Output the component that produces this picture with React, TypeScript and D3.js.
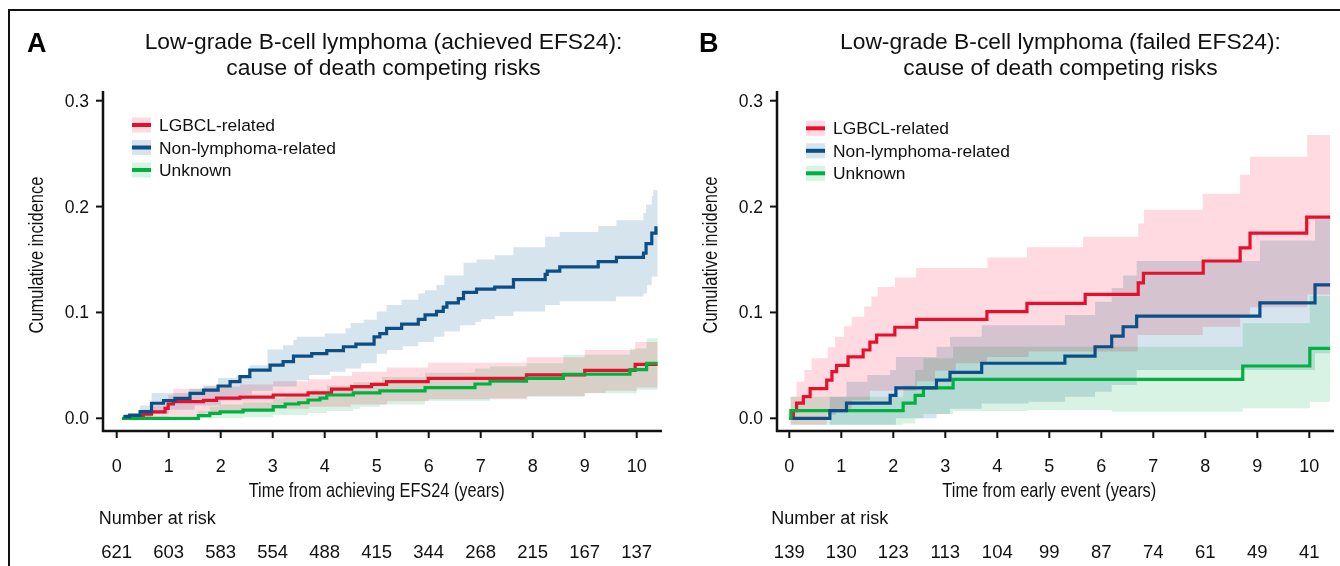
import React from "react";
import * as d3 from "d3";

// ---------- DATA ----------
const X_TICKS = [0, 1, 2, 3, 4, 5, 6, 7, 8, 9, 10];
const Y_TICKS = [0, 0.1, 0.2, 0.3];
const T_END = 10.4;

const SERIES = ["LGBCL-related", "Non-lymphoma-related", "Unknown"];

const A_TITLE = ["Low-grade B-cell lymphoma (achieved EFS24):", "cause of death competing risks"];
const B_TITLE = ["Low-grade B-cell lymphoma (failed EFS24):", "cause of death competing risks"];
const A_XLABEL = "Time from achieving EFS24 (years)";
const B_XLABEL = "Time from early event (years)";
const A_AT_RISK = [621, 603, 583, 554, 488, 415, 344, 268, 215, 167, 137];
const B_AT_RISK = [139, 130, 123, 113, 104, 99, 87, 74, 61, 49, 41];

// Panel A — step points [time, value]
const A_LGBCL = [[0.16, 0], [0.32, 0.002], [0.51, 0.004], [0.67, 0.006], [0.93, 0.0094], [0.99, 0.0135], [1.09, 0.0157], [1.67, 0.017], [1.92, 0.019], [2.37, 0.02], [3.01, 0.022], [3.68, 0.024], [4.13, 0.0275], [4.52, 0.03], [4.9, 0.032], [5.19, 0.0346], [5.99, 0.0378], [7.88, 0.041], [9.0, 0.0452], [9.97, 0.051]];
const A_LGBCL_LO = [[0.16, 0], [1.0, 0.002], [1.7, 0.005], [2.4, 0.007], [3.0, 0.009], [3.7, 0.011], [4.5, 0.013], [5.2, 0.016], [6.0, 0.018], [7.9, 0.021], [9.0, 0.024], [9.4, 0.026], [10.0, 0.029]];
const A_LGBCL_HI = [[0.16, 0.004], [0.5, 0.008], [0.67, 0.012], [0.99, 0.022], [1.09, 0.028], [1.67, 0.03], [2.37, 0.032], [3.01, 0.035], [3.68, 0.037], [4.13, 0.04], [4.52, 0.044], [5.19, 0.048], [5.99, 0.0525], [7.88, 0.0576], [9.0, 0.0645], [9.97, 0.072]];

const A_NONLYMPH = [[0.13, 0.0015], [0.25, 0.003], [0.45, 0.0063], [0.67, 0.0142], [0.9, 0.0167], [1.12, 0.0189], [1.41, 0.0236], [1.67, 0.0267], [1.95, 0.0305], [2.18, 0.0346], [2.37, 0.0393], [2.56, 0.0456], [2.95, 0.0503], [3.2, 0.0535], [3.4, 0.0588], [3.75, 0.061], [4.04, 0.0639], [4.36, 0.0676], [4.6, 0.07], [4.95, 0.077], [5.06, 0.08], [5.19, 0.085], [5.48, 0.089], [5.8, 0.0935], [5.93, 0.0976], [6.15, 0.101], [6.28, 0.105], [6.35, 0.109], [6.57, 0.113], [6.67, 0.119], [6.92, 0.122], [7.27, 0.124], [7.63, 0.131], [8.24, 0.136], [8.28, 0.139], [8.52, 0.143], [9.26, 0.148], [9.61, 0.152], [10.13, 0.156], [10.18, 0.165], [10.29, 0.175], [10.37, 0.18]];
const A_NONLYMPH_LO = [[0.13, 0], [0.67, 0.004], [1.0, 0.008], [1.5, 0.012], [2.0, 0.017], [2.4, 0.022], [2.6, 0.026], [3.0, 0.03], [3.46, 0.036], [3.7, 0.041], [4.1, 0.044], [4.4, 0.047], [4.7, 0.052], [5.0, 0.061], [5.2, 0.0645], [5.5, 0.068], [5.8, 0.072], [6.1, 0.077], [6.3, 0.082], [6.6, 0.088], [6.9, 0.091], [7.0, 0.0935], [7.27, 0.0966], [7.63, 0.101], [8.24, 0.107], [8.52, 0.1105], [9.6, 0.115], [10.13, 0.118], [10.2, 0.126], [10.29, 0.134]];
const A_NONLYMPH_HI = [[0.13, 0.004], [0.45, 0.012], [0.67, 0.024], [1.4, 0.028], [1.67, 0.031], [1.95, 0.038], [2.3, 0.04], [2.56, 0.05], [2.9, 0.065], [3.2, 0.069], [3.4, 0.074], [3.46, 0.077], [4.0, 0.08], [4.4, 0.085], [4.5, 0.09], [4.75, 0.093], [5.0, 0.101], [5.19, 0.107], [5.48, 0.112], [5.8, 0.118], [5.93, 0.121], [6.15, 0.126], [6.3, 0.135], [6.67, 0.147], [6.92, 0.15], [7.27, 0.154], [7.63, 0.1615], [8.24, 0.1715], [8.52, 0.176], [9.26, 0.1816], [9.61, 0.187], [10.13, 0.194], [10.18, 0.202], [10.29, 0.21], [10.32, 0.2157]];

const A_UNKNOWN = [[0.1, 0], [1.57, 0.0025], [1.79, 0.0047], [1.99, 0.006], [2.43, 0.0078], [3.01, 0.011], [3.24, 0.0135], [3.5, 0.0147], [3.68, 0.0173], [3.91, 0.019], [4.04, 0.022], [4.55, 0.024], [5.06, 0.026], [5.93, 0.029], [6.89, 0.0324], [7.18, 0.035], [7.88, 0.0378], [8.59, 0.0416], [9.87, 0.046], [10.19, 0.052]];
const A_UNKNOWN_LO = [[1.57, 0], [2.43, 0.001], [3.01, 0.003], [3.68, 0.005], [4.04, 0.007], [4.55, 0.009], [4.68, 0.011], [5.06, 0.013], [5.93, 0.0166], [7.18, 0.019], [7.88, 0.0204], [9.0, 0.0236], [10.0, 0.027]];
const A_UNKNOWN_HI = [[1.57, 0.007], [1.79, 0.011], [1.99, 0.013], [2.43, 0.015], [3.01, 0.019], [3.24, 0.022], [3.68, 0.026], [4.04, 0.031], [4.55, 0.034], [5.1, 0.039], [5.93, 0.043], [6.89, 0.047], [7.18, 0.049], [7.88, 0.052], [8.59, 0.06], [9.87, 0.066], [10.19, 0.0755]];

// Panel B — step points [time, value]
const B_LGBCL = [[0.0, 0], [0.08, 0.0072], [0.14, 0.0144], [0.27, 0.0204], [0.4, 0.028], [0.72, 0.036], [0.82, 0.044], [0.91, 0.05], [1.13, 0.058], [1.42, 0.0645], [1.55, 0.072], [1.68, 0.0787], [2.03, 0.086], [2.45, 0.0935], [3.8, 0.1007], [4.57, 0.1086], [5.69, 0.117], [6.71, 0.128], [6.81, 0.137], [7.96, 0.1486], [8.67, 0.161], [8.86, 0.175], [9.95, 0.19]];
const B_LGBCL_LO = [[0.03, -0.006], [0.72, 0.003], [0.9, 0.009], [1.2, 0.017], [1.55, 0.026], [2.45, 0.035], [2.8, 0.045], [3.2, 0.052], [3.8, 0.058], [4.6, 0.063], [6.7, 0.0787], [7.95, 0.0865], [8.67, 0.095], [8.86, 0.105], [9.96, 0.117]];
const B_LGBCL_HI = [[0.03, 0.0204], [0.14, 0.0346], [0.29, 0.0456], [0.43, 0.0567], [0.74, 0.067], [0.88, 0.077], [1.05, 0.087], [1.2, 0.096], [1.44, 0.1055], [1.58, 0.115], [1.7, 0.124], [2.03, 0.133], [2.44, 0.142], [3.81, 0.152], [4.57, 0.1615], [5.65, 0.1715], [6.71, 0.184], [6.82, 0.197], [7.95, 0.212], [8.67, 0.23], [8.86, 0.247], [9.96, 0.2676]];

const B_NONLYMPH = [[0.07, 0], [0.78, 0.0072], [1.1, 0.0144], [1.94, 0.0216], [2.05, 0.0288], [2.83, 0.036], [3.09, 0.0434], [3.7, 0.052], [5.3, 0.0588], [5.88, 0.0676], [6.2, 0.0777], [6.42, 0.0865], [6.68, 0.0966], [9.05, 0.109], [10.11, 0.126]];
const B_NONLYMPH_LO = [[0.07, 0], [0.78, -0.006], [2.05, 0], [2.83, 0.004], [3.09, 0.009], [3.7, 0.014], [4.6, 0.0157], [5.3, 0.0204], [5.88, 0.025], [6.2, 0.0315], [6.68, 0.0456], [10.11, 0.0614]];
const B_NONLYMPH_HI = [[0.07, 0], [0.78, 0.0204], [1.1, 0.0346], [1.5, 0.041], [1.94, 0.0456], [2.05, 0.058], [2.83, 0.0676], [3.09, 0.077], [3.7, 0.088], [5.3, 0.0976], [5.88, 0.11], [6.2, 0.123], [6.42, 0.135], [6.68, 0.1486], [9.05, 0.168], [10.11, 0.188]];

const B_UNKNOWN = [[0.0, 0], [0.03, 0.0072], [2.19, 0.0144], [2.42, 0.0216], [2.58, 0.0288], [3.15, 0.0368], [8.72, 0.0494], [10.01, 0.066]];
const B_UNKNOWN_LO = [[0.02, -0.006], [2.19, -0.005], [2.42, 0], [2.58, 0.004], [3.15, 0.007], [4.6, 0.0079], [6.2, 0.0063], [8.72, 0.0094], [10.01, 0.0157]];
const B_UNKNOWN_HI = [[0.02, 0.0204], [2.19, 0.031], [2.42, 0.0456], [2.58, 0.0567], [3.15, 0.0676], [8.72, 0.0897], [10.01, 0.1155]];

// ---------- STYLE ----------
const LINE_COLORS = ["#E4102E", "#0B4F86", "#00B140"];
const BAND_COLORS = ["#FFDAE0", "#D6E4ED", "#D8F3E3"];
const FONT = "'Liberation Sans', Arial, Helvetica, sans-serif";
const NARROW = "'Liberation Sans Narrow', 'Liberation Sans', Arial, sans-serif";

type Pt = number[];

function stepAt(pts: Pt[], t: number): number {
  let v = pts[0][1];
  for (const p of pts) {
    if (p[0] <= t + 1e-9) v = p[1];
    else break;
  }
  return v;
}

function bandPoints(lo: Pt[], hi: Pt[], tEnd: number) {
  const times = Array.from(new Set([...lo.map((p) => p[0]), ...hi.map((p) => p[0])])).sort((a, b) => a - b);
  const pts = times.map((t) => ({ t, lo: stepAt(lo, t), hi: stepAt(hi, t) }));
  const last = pts[pts.length - 1];
  pts.push({ t: tEnd, lo: last.lo, hi: last.hi });
  return pts;
}

function linePoints(est: Pt[], tEnd: number) {
  const pts = est.map((p) => ({ t: p[0], v: p[1] }));
  pts.push({ t: tEnd, v: est[est.length - 1][1] });
  return pts;
}

interface PanelProps {
  letter: string;
  title: string[];
  xLabel: string;
  xLabelWidth: number;
  atRisk: number[];
  x0: number;
  axisX: number;
  axisEnd: number;
  legendX: number;
  legendY: number;
  est: Pt[][];
  lo: Pt[][];
  hi: Pt[][];
  titleCx: number;
  letterX: number;
}

function Panel(p: PanelProps) {
  const x = d3.scaleLinear().domain([0, 10]).range([p.x0, p.x0 + 520]);
  const y = d3.scaleLinear().domain([0, 0.3]).range([418.3, 100.7]);
  const axisY = 431;
  const area = d3
    .area<{ t: number; lo: number; hi: number }>()
    .x((d) => x(d.t))
    .y0((d) => y(d.lo))
    .y1((d) => y(d.hi))
    .curve(d3.curveStepAfter);
  const line = d3
    .line<{ t: number; v: number }>()
    .x((d) => x(d.t))
    .y((d) => y(d.v))
    .curve(d3.curveStepAfter);
  const cx = x(5);
  return (
    <g>
      <text x={p.letterX} y={52} fontFamily={FONT} fontWeight="bold" fontSize={27} fill="#000">
        {p.letter}
      </text>
      <text x={p.titleCx} y={48.5} fontFamily={FONT} fontSize={22.8} textAnchor="middle" fill="#111">
        {p.title[0]}
      </text>
      <text x={p.titleCx} y={74.5} fontFamily={FONT} fontSize={22.8} textAnchor="middle" fill="#111">
        {p.title[1]}
      </text>

      {/* bands */}
      <g>
        {[0, 1, 2].map((i) => (
          <path
            key={"b" + i}
            d={area(bandPoints(p.lo[i], p.hi[i], T_END)) || ""}
            fill={BAND_COLORS[i]}
            style={{ mixBlendMode: "multiply" }}
          />
        ))}
      </g>
      {/* lines */}
      {[0, 2, 1].map((i) => (
        <path
          key={"l" + i}
          d={line(linePoints(p.est[i], T_END)) || ""}
          fill="none"
          stroke={LINE_COLORS[i]}
          strokeWidth={3.2}
        />
      ))}

      {/* axes */}
      <line x1={p.axisX} x2={p.axisX} y1={91} y2={axisY + 1} stroke="#111" strokeWidth={2.5} />
      <line x1={p.axisX - 1} x2={p.axisEnd} y1={axisY} y2={axisY} stroke="#111" strokeWidth={2.5} />
      {Y_TICKS.map((v) => (
        <g key={"yt" + v}>
          <line x1={p.axisX - 7} x2={p.axisX} y1={y(v)} y2={y(v)} stroke="#111" strokeWidth={2} />
          <text x={p.axisX - 14} y={y(v) + 6} fontFamily={FONT} fontSize={17.5} textAnchor="end" fill="#111">
            {d3.format(".1f")(v)}
          </text>
        </g>
      ))}
      {X_TICKS.map((t) => (
        <g key={"xt" + t}>
          <line x1={x(t)} x2={x(t)} y1={axisY} y2={axisY + 7} stroke="#111" strokeWidth={2} />
          <text x={x(t)} y={471.5} fontFamily={FONT} fontSize={18} textAnchor="middle" fill="#111">
            {t}
          </text>
        </g>
      ))}
      <text
        x={cx}
        y={497}
        fontFamily={NARROW}
        fontSize={21}
        textAnchor="middle"
        fill="#111"
        textLength={p.xLabelWidth}
        lengthAdjust="spacingAndGlyphs"
      >
        {p.xLabel}
      </text>
      <text
        transform={`translate(${p.axisX - 60},255) rotate(-90)`}
        fontFamily={NARROW}
        fontSize={19.5}
        textAnchor="middle"
        fill="#111"
        textLength={157}
        lengthAdjust="spacingAndGlyphs"
      >
        Cumulative incidence
      </text>

      {/* legend */}
      {SERIES.map((s, i) => {
        const cy = p.legendY + i * 22.5;
        return (
          <g key={"lg" + i}>
            <rect x={p.legendX} y={cy - 7.5} width={19} height={15} fill={BAND_COLORS[i]} />
            <line x1={p.legendX} x2={p.legendX + 19} y1={cy} y2={cy} stroke={LINE_COLORS[i]} strokeWidth={4} />
            <text x={p.legendX + 27} y={cy + 6} fontFamily={FONT} fontSize={17.4} fill="#111">
              {s}
            </text>
          </g>
        );
      })}

      {/* number at risk */}
      <text x={p.x0 - 18} y={524} fontFamily={FONT} fontSize={18} fill="#111">
        Number at risk
      </text>
      {p.atRisk.map((n, i) => (
        <text key={"ar" + i} x={x(X_TICKS[i])} y={557.5} fontFamily={FONT} fontSize={18.5} textAnchor="middle" fill="#111">
          {n}
        </text>
      ))}
    </g>
  );
}

export default function App() {
  return (
    <svg
      width={1340}
      height={566}
      style={{ position: "absolute", left: 0, top: 0, background: "#fff" }}
    >
      <rect x={0} y={0} width={1340} height={566} fill="#fff" />
      <path d="M9,566 L9,10 L1340,10" fill="none" stroke="#111" strokeWidth={2} />
      <Panel
        letter="A"
        title={A_TITLE}
        xLabel={A_XLABEL}
        xLabelWidth={256}
        atRisk={A_AT_RISK}
        x0={116.7}
        axisX={103}
        axisEnd={662}
        legendX={132}
        legendY={125}
        est={[A_LGBCL, A_NONLYMPH, A_UNKNOWN]}
        lo={[A_LGBCL_LO, A_NONLYMPH_LO, A_UNKNOWN_LO]}
        hi={[A_LGBCL_HI, A_NONLYMPH_HI, A_UNKNOWN_HI]}
        titleCx={383.5}
        letterX={27}
      />
      <Panel
        letter="B"
        title={B_TITLE}
        xLabel={B_XLABEL}
        xLabelWidth={214}
        atRisk={B_AT_RISK}
        x0={789.3}
        axisX={777}
        axisEnd={1334}
        legendX={806}
        legendY={128.3}
        est={[B_LGBCL, B_NONLYMPH, B_UNKNOWN]}
        lo={[B_LGBCL_LO, B_NONLYMPH_LO, B_UNKNOWN_LO]}
        hi={[B_LGBCL_HI, B_NONLYMPH_HI, B_UNKNOWN_HI]}
        titleCx={1060.5}
        letterX={699}
      />
    </svg>
  );
}
